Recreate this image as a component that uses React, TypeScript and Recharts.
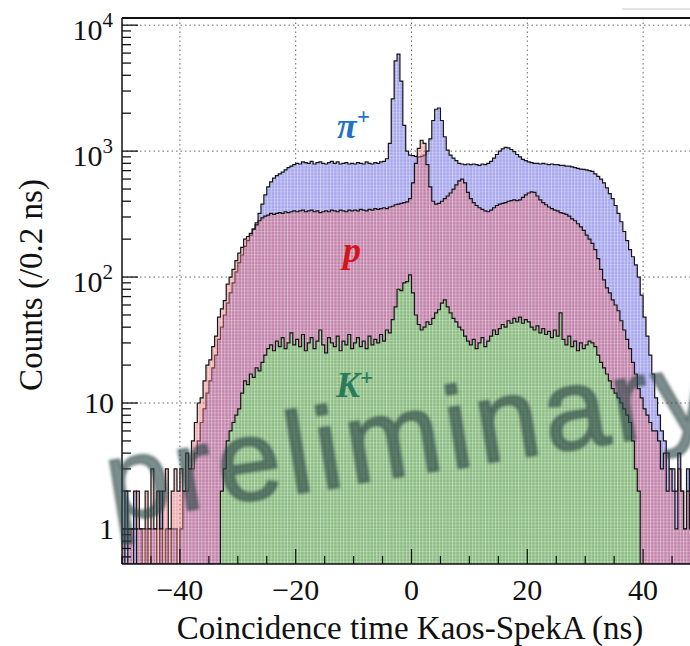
import React from 'react';
import {
  ComposedChart,
  Area,
  XAxis,
  YAxis,
  CartesianGrid,
  ReferenceLine,
} from 'recharts';

// coincidence-time histograms, 0.5 ns bins from -50 to +50 ns
const T_MIN = -50;
const BIN = 0.5;
const Y_MIN = 0.527;
const Y_MAX = 11400;

const PI_COUNTS = [
  1, 2, 1, 1, 2, 1, 1, 0, 1, 0, 1, 1, 0, 2, 0, 1, 0, 1, 1, 0,
  1, 2, 2, 3, 3, 4, 5, 7, 9, 12, 15, 19, 24, 32, 40, 50, 62, 75, 90, 110,
  130, 150, 175, 195, 215, 240, 270, 320, 380, 450, 520, 570, 610, 640, 660, 680, 710, 740, 760, 780,
  800, 790, 820, 810, 800, 830, 790, 810, 820, 800, 790, 810, 830, 800, 820, 790, 800, 810, 790, 800,
  790, 810, 800, 790, 820, 800, 790, 810, 800, 820, 830, 870, 1150, 2600, 5200, 5900, 3600, 1600, 1000, 930,
  920, 910, 900, 910, 930, 1000, 1250, 1750, 2150, 2200, 1750, 1300, 1020, 930, 880, 840, 800, 790, 780, 790,
  780, 790, 780, 770, 790, 780, 800, 830, 880, 940, 1000, 1040, 1070, 1060, 1030, 990, 940, 900, 860, 840,
  820, 810, 800, 800, 790, 800, 790, 780, 790, 780, 780, 770, 770, 760, 760, 750, 740, 730, 720, 715,
  710, 700, 690, 660, 630, 600, 560, 510, 460, 420, 370, 320, 275, 230, 195, 165, 145, 125, 100, 72,
  48, 34, 24, 17, 11, 8, 6, 5, 4, 3, 3, 2, 4, 2, 1, 3, 2, 1, 2, 1,
];

const P_COUNTS = [
  1, 0, 1, 1, 0, 2, 1, 1, 2, 1, 3, 1, 2, 1, 2, 3, 1, 2, 3, 2,
  3, 2, 4, 3, 5, 7, 10, 11, 15, 20, 22, 28, 34, 48, 56, 65, 88, 100, 115, 135,
  155, 172, 200, 210, 222, 240, 260, 280, 295, 305, 310, 320, 315, 320, 325, 320, 330, 325, 330, 335,
  330, 335, 340, 330, 335, 340, 330, 335, 325, 330, 335, 330, 340, 335, 330, 340, 335, 330, 340, 335,
  340, 335, 345, 340, 335, 345, 340, 350, 345, 350, 355, 350, 360, 365, 375, 380, 385, 390, 395, 420,
  560, 800, 1050, 1220, 1150, 780, 520, 400, 380, 385, 400, 420, 440, 465, 500, 540, 580, 600, 560, 470,
  420, 390, 370, 355, 345, 335, 330, 340, 355, 370, 380, 385, 390, 400, 405, 410, 405, 410, 430, 450,
  465, 475, 470, 440, 410, 390, 375, 360, 350, 340, 335, 325, 320, 315, 305, 290, 280, 265, 250, 235,
  215, 200, 185, 165, 140, 115, 95, 82, 75, 66, 60, 54, 45, 38, 32, 27, 21, 17, 13, 11,
  9, 8, 7, 6, 6, 5, 3, 4, 2, 3, 2, 1, 3, 2, 1, 2, 1, 3, 1, 2,
];

const K_COUNTS = [
  0, 0, 0, 0, 0, 0, 0, 0, 0, 0, 0, 0, 0, 0, 0, 0, 0, 0, 0, 0,
  0, 0, 0, 0, 0, 0, 0, 0, 0, 0, 0, 0, 0, 0, 2, 3, 5, 6, 7, 8,
  9, 12, 15, 14, 17, 16, 19, 18, 21, 24, 27, 29, 26, 31, 28, 33, 27, 30, 36, 29,
  32, 28, 35, 26, 30, 33, 27, 31, 38, 29, 25, 33, 30, 28, 34, 26, 31, 29, 35, 27,
  30, 33, 28, 31, 27, 34, 29, 32, 30, 35, 31, 38, 36, 46, 58, 80, 78, 90, 92, 104,
  75, 50, 42, 38, 40, 44, 42, 47, 52, 55, 62, 66, 58, 52, 47, 44, 40, 38, 34, 31,
  29, 32, 27, 30, 33, 28, 31, 34, 38, 35, 39, 42, 40, 45, 43, 47, 44, 48, 43, 46,
  44, 40, 38, 41, 36, 39, 35, 37, 33, 38, 34, 52, 32, 29, 34, 28, 31, 26, 30, 27,
  29, 31, 30, 28, 24, 21, 19, 17, 15, 13, 12, 11, 10, 9, 8, 7, 5, 3, 2, 0,
  0, 0, 0, 0, 0, 0, 0, 0, 0, 0, 0, 0, 0, 0, 0, 0, 0, 0, 0, 0,
];

const X_LABELS = [-40, -20, 0, 20, 40];
const Y_LABELS = [1, 10, 100, 1000, 10000];
// mantissa and exponent shown for each labelled decade
const Y_TEXT: Record<number, [string, string]> = {
  1: ['1', ''],
  10: ['10', ''],
  100: ['10', '2'],
  1000: ['10', '3'],
  10000: ['10', '4'],
};

// empty bins sit on the axis floor so the log scale stays finite
const floorCount = (v: number) => (v > 0 ? v : Y_MIN);

const data = PI_COUNTS.map((_, i) => ({
  t: T_MIN + i * BIN,
  pi: floorCount(PI_COUNTS[i]),
  p: floorCount(P_COUNTS[i]),
  k: floorCount(K_COUNTS[i]),
}));
// repeat last bin at the right edge so the final step has width
data.push({ ...data[data.length - 1], t: T_MIN + data.length * BIN });

const yTicks: number[] = [];
for (let d = 0.1; d < 20000; d *= 10) {
  for (let m = 1; m <= 9; m++) {
    const v = Math.round(d * m * 1000) / 1000;
    if (v >= Y_MIN && v <= Y_MAX) yTicks.push(v);
  }
}
const xTicks: number[] = [];
for (let t = -50; t <= 50; t += 5) xTicks.push(t);

const PLOT_LEFT = 122;
const PLOT_BOTTOM = 564;
const SERIF = '"Liberation Serif", "Times New Roman", serif';

const YTick = (props: any) => {
  const { y, payload } = props;
  const v = payload.value;
  const lbl = Y_TEXT[v];
  return (
    <g>
      <line x1={PLOT_LEFT} x2={PLOT_LEFT + (lbl ? 16 : 9)} y1={y} y2={y} stroke="#111" strokeWidth={1.3} />
      {lbl && (
        <text
          x={lbl[1] ? 113 : 114}
          y={y + (lbl[1] ? 15 : 10)}
          textAnchor="end"
          fontFamily={SERIF}
          fontSize={30}
          fill="#111"
        >
          {lbl[0]}
          {lbl[1] ? (
            <tspan dy={-13} fontSize={21}>
              {lbl[1]}
            </tspan>
          ) : null}
        </text>
      )}
    </g>
  );
};

const XTick = (props: any) => {
  const { x, payload } = props;
  const v = payload.value;
  const major = v % 20 === 0;
  const labelled = X_LABELS.includes(v);
  return (
    <g>
      <line x1={x} x2={x} y1={PLOT_BOTTOM} y2={PLOT_BOTTOM - (major ? 15 : 8)} stroke="#111" strokeWidth={1.2} />
      {labelled && (
        <text x={x} y={600} textAnchor="middle" fontFamily={SERIF} fontSize={30} fill="#111">
          {v < 0 ? `\u2212${Math.abs(v)}` : String(v)}
        </text>
      )}
    </g>
  );
};

export default function App() {
  return (
    <div
      style={{
        position: 'fixed',
        left: 0,
        top: 0,
        width: 690,
        height: 646,
        overflow: 'hidden',
        background: '#fff',
      }}
    >
      <div style={{ position: 'relative', width: 712, height: 646 }}>
        <svg width={0} height={0} style={{ position: 'absolute' }}>
          <defs>
            <pattern id="fillPi" width={3.3} height={3.3} patternUnits="userSpaceOnUse">
              <rect width={3.3} height={3.3} fill="#a6a6ee" />
              <rect width={1} height={3.3} fill="#fff" opacity={0.4} />
              <rect width={3.3} height={1} fill="#fff" opacity={0.25} />
            </pattern>
            <pattern id="fillP" width={3.3} height={3.3} patternUnits="userSpaceOnUse">
              <rect width={3.3} height={3.3} fill="#df5a5e" />
              <rect width={1} height={3.3} fill="#fff" opacity={0.4} />
              <rect width={3.3} height={1} fill="#fff" opacity={0.25} />
            </pattern>
            <pattern id="fillK" width={3.3} height={3.3} patternUnits="userSpaceOnUse">
              <rect width={3.3} height={3.3} fill="#84c07c" />
              <rect width={1} height={3.3} fill="#fff" opacity={0.4} />
              <rect width={3.3} height={1} fill="#fff" opacity={0.25} />
            </pattern>
          </defs>
        </svg>
        <ComposedChart width={712} height={646} data={data} margin={{ top: 18, right: 11, left: 10, bottom: 0 }}>
          <CartesianGrid
            stroke="#666"
            strokeDasharray="1.5 3"
            horizontalValues={Y_LABELS}
            verticalValues={X_LABELS}
          />
          <Area
            type="stepAfter"
            dataKey="pi"
            baseValue={Y_MIN}
            stroke="#151515"
            strokeWidth={1.2}
            fill="url(#fillPi)"
            fillOpacity={1}
            dot={false}
            activeDot={false}
            isAnimationActive={false}
          />
          <Area
            type="stepAfter"
            dataKey="p"
            baseValue={Y_MIN}
            stroke="#151515"
            strokeWidth={1.2}
            fill="url(#fillP)"
            fillOpacity={0.48}
            dot={false}
            activeDot={false}
            isAnimationActive={false}
          />
          <Area
            type="stepAfter"
            dataKey="k"
            baseValue={Y_MIN}
            stroke="#151515"
            strokeWidth={1.2}
            fill="url(#fillK)"
            fillOpacity={0.92}
            dot={false}
            activeDot={false}
            isAnimationActive={false}
          />
          <ReferenceLine y={Y_MAX} stroke="#111" strokeWidth={2} />
          <XAxis
            dataKey="t"
            type="number"
            domain={[-50, 50]}
            allowDataOverflow
            ticks={xTicks}
            interval={0}
            tick={<XTick />}
            tickLine={false}
            axisLine={{ stroke: '#111', strokeWidth: 1.5 }}
            height={82}
          />
          <YAxis
            type="number"
            scale="log"
            domain={[Y_MIN, Y_MAX]}
            allowDataOverflow
            ticks={yTicks}
            interval={0}
            tick={<YTick />}
            tickLine={false}
            axisLine={{ stroke: '#111', strokeWidth: 1.5 }}
            width={112}
          />
        </ComposedChart>
        <svg width={712} height={646} style={{ position: 'absolute', left: 0, top: 0, pointerEvents: 'none' }}>
          <defs>
            <filter id="soft" x="-5%" y="-20%" width="110%" height="140%">
              <feGaussianBlur stdDeviation={1.6} />
            </filter>
          </defs>
          <line x1={622} x2={690} y1={9} y2={9} stroke="#c8c8c8" strokeWidth={1} />
          <text
            x={42}
            y={285}
            transform="rotate(-90 42 285)"
            textAnchor="middle"
            fontFamily={SERIF}
            fontSize={33}
            fill="#111"
          >
            Counts (/0.2 ns)
          </text>
          <text x={410} y={639} textAnchor="middle" fontFamily={SERIF} fontSize={33} fill="#111">
            Coincidence time Kaos-SpekA (ns)
          </text>
          <text x={337} y={138} fontFamily={SERIF} fontSize={36} fontWeight="bold" fontStyle="italic" fill="#1f74c4">
            π<tspan dy={-14} fontSize={23}>+</tspan>
          </text>
          <text x={343} y={262} fontFamily={SERIF} fontSize={36} fontWeight="bold" fontStyle="italic" fill="#d41418">
            p
          </text>
          <text x={336} y={397} fontFamily={SERIF} fontSize={36} fontWeight="bold" fontStyle="italic" fill="#2b7a5c">
            K<tspan dy={-12} fontSize={23}>+</tspan>
          </text>
          <text
            x={112}
            y={522}
            transform="rotate(-9 112 522)"
            fontFamily='"Liberation Sans", Arial, sans-serif'
            fontSize={115}
            letterSpacing={5}
            fill="#2f4545"
            fillOpacity={0.62}
            stroke="#2f4545"
            strokeOpacity={0.62}
            strokeWidth={2}
            filter="url(#soft)"
          >
            preliminary
          </text>
        </svg>
      </div>
    </div>
  );
}
